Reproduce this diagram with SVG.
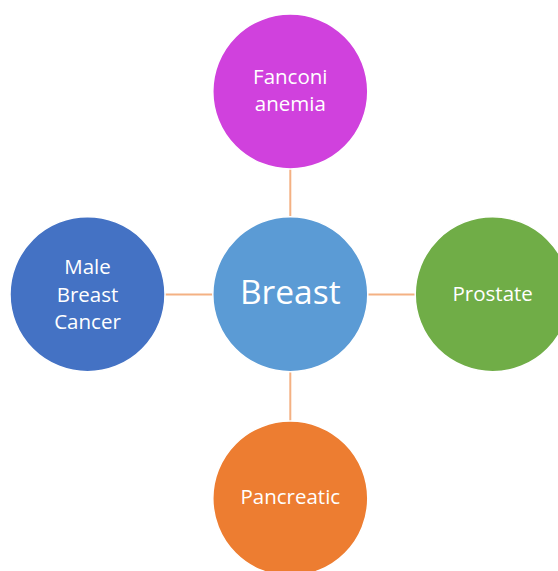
<svg xmlns="http://www.w3.org/2000/svg" width="558" height="571" viewBox="0 0 558 571">
<style>
.n{stroke:#ffffff;stroke-width:1.5}
.t{font-family:"Open Sans","Liberation Sans",sans-serif;fill:#ffffff;text-anchor:middle;font-size:20.5px}
.c{stroke:#F4B183;stroke-width:2;fill:none}
</style>
<rect width="558" height="571" fill="#ffffff"/>
<g id="connectors">
<line class="c" x1="290.3" y1="169" x2="290.3" y2="216"/>
<line class="c" x1="165" y1="294.5" x2="213" y2="294.5"/>
<line class="c" x1="367.5" y1="294.5" x2="415" y2="294.5"/>
<line class="c" x1="290.3" y1="372" x2="290.3" y2="421"/>
</g>
<g id="fanconi">
<circle class="n" cx="290.3" cy="91.5" r="77.5" fill="#D041DD"/>
<text class="t" x="290.3" y="84">Fanconi</text>
<text class="t" x="290.3" y="111">anemia</text>
</g>
<g id="male">
<circle class="n" cx="87.5" cy="294.2" r="77.5" fill="#4472C4"/>
<text class="t" x="87.5" y="274">Male</text>
<text class="t" x="87.5" y="301.5">Breast</text>
<text class="t" x="87.5" y="328.5">Cancer</text>
</g>
<g id="prostate">
<circle class="n" cx="492.7" cy="294.2" r="77.5" fill="#70AD47"/>
<text class="t" x="492.7" y="301">Prostate</text>
</g>
<g id="pancreatic">
<circle class="n" cx="290.3" cy="498.5" r="77.5" fill="#ED7D31"/>
<text class="t" x="290.3" y="504">Pancreatic</text>
</g>
<g id="breast">
<circle class="n" cx="290.3" cy="294.2" r="77.5" fill="#5B9BD5"/>
<text class="t" x="290.3" y="304" style="font-size:33.5px">Breast</text>
</g>
</svg>
